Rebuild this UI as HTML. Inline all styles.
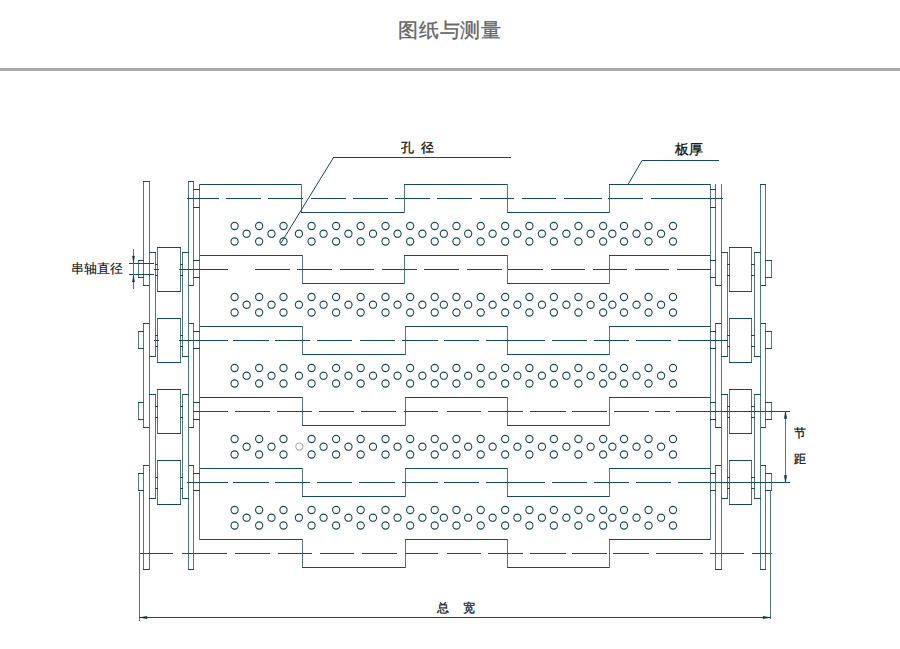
<!DOCTYPE html>
<html><head><meta charset="utf-8">
<style>
html,body{margin:0;padding:0;background:#fff;width:900px;height:649px;overflow:hidden;}
body{position:relative;font-family:"Liberation Sans",sans-serif;}
.t{position:absolute;white-space:nowrap;line-height:1;}
#title{left:398px;top:20px;font-size:20px;color:#666;letter-spacing:0.75px;-webkit-text-stroke:0.35px #666;}
#hr{position:absolute;left:0;top:68px;width:900px;height:3px;background:#aaa;}
svg{position:absolute;left:0;top:0;}
.lb{color:#111;font-size:12px;-webkit-text-stroke:0.3px #111;}
</style></head><body>
<div class="t" id="title">图纸与测量</div>
<div id="hr"></div>
<svg width="900" height="649" viewBox="0 0 900 649">
<g shape-rendering="crispEdges">
<line x1="199" y1="184.5" x2="302" y2="184.5" stroke="#174a5a" stroke-width="1.0"/>
<line x1="301.5" y1="184" x2="301.5" y2="213" stroke="#4f7a78" stroke-width="1.0"/>
<line x1="301" y1="212.5" x2="405" y2="212.5" stroke="#174a5a" stroke-width="1.0"/>
<line x1="404.5" y1="184" x2="404.5" y2="213" stroke="#4f7a78" stroke-width="1.0"/>
<line x1="404" y1="184.5" x2="508" y2="184.5" stroke="#174a5a" stroke-width="1.0"/>
<line x1="507.5" y1="184" x2="507.5" y2="213" stroke="#4f7a78" stroke-width="1.0"/>
<line x1="507" y1="212.5" x2="610" y2="212.5" stroke="#174a5a" stroke-width="1.0"/>
<line x1="609.5" y1="184" x2="609.5" y2="213" stroke="#4f7a78" stroke-width="1.0"/>
<line x1="609" y1="184.5" x2="711" y2="184.5" stroke="#174a5a" stroke-width="1.0"/>
<line x1="199" y1="255.5" x2="303" y2="255.5" stroke="#174a5a" stroke-width="1.0"/>
<line x1="302.5" y1="255" x2="302.5" y2="284" stroke="#4f7a78" stroke-width="1.0"/>
<line x1="302" y1="283.5" x2="405" y2="283.5" stroke="#174a5a" stroke-width="1.0"/>
<line x1="404.5" y1="255" x2="404.5" y2="284" stroke="#4f7a78" stroke-width="1.0"/>
<line x1="404" y1="255.5" x2="508" y2="255.5" stroke="#174a5a" stroke-width="1.0"/>
<line x1="507.5" y1="255" x2="507.5" y2="284" stroke="#4f7a78" stroke-width="1.0"/>
<line x1="507" y1="283.5" x2="610" y2="283.5" stroke="#174a5a" stroke-width="1.0"/>
<line x1="609.5" y1="255" x2="609.5" y2="284" stroke="#4f7a78" stroke-width="1.0"/>
<line x1="609" y1="255.5" x2="711" y2="255.5" stroke="#174a5a" stroke-width="1.0"/>
<line x1="199" y1="326.5" x2="303" y2="326.5" stroke="#174a5a" stroke-width="1.0"/>
<line x1="302.5" y1="326" x2="302.5" y2="355" stroke="#4f7a78" stroke-width="1.0"/>
<line x1="302" y1="354.5" x2="406" y2="354.5" stroke="#174a5a" stroke-width="1.0"/>
<line x1="405.5" y1="326" x2="405.5" y2="355" stroke="#4f7a78" stroke-width="1.0"/>
<line x1="405" y1="326.5" x2="508" y2="326.5" stroke="#174a5a" stroke-width="1.0"/>
<line x1="507.5" y1="326" x2="507.5" y2="355" stroke="#4f7a78" stroke-width="1.0"/>
<line x1="507" y1="354.5" x2="610" y2="354.5" stroke="#174a5a" stroke-width="1.0"/>
<line x1="609.5" y1="326" x2="609.5" y2="355" stroke="#4f7a78" stroke-width="1.0"/>
<line x1="609" y1="326.5" x2="711" y2="326.5" stroke="#174a5a" stroke-width="1.0"/>
<line x1="199" y1="397.5" x2="303" y2="397.5" stroke="#174a5a" stroke-width="1.0"/>
<line x1="302.5" y1="397" x2="302.5" y2="426" stroke="#4f7a78" stroke-width="1.0"/>
<line x1="302" y1="425.5" x2="406" y2="425.5" stroke="#174a5a" stroke-width="1.0"/>
<line x1="405.5" y1="397" x2="405.5" y2="426" stroke="#4f7a78" stroke-width="1.0"/>
<line x1="405" y1="397.5" x2="508" y2="397.5" stroke="#174a5a" stroke-width="1.0"/>
<line x1="507.5" y1="397" x2="507.5" y2="426" stroke="#4f7a78" stroke-width="1.0"/>
<line x1="507" y1="425.5" x2="610" y2="425.5" stroke="#174a5a" stroke-width="1.0"/>
<line x1="609.5" y1="397" x2="609.5" y2="426" stroke="#4f7a78" stroke-width="1.0"/>
<line x1="609" y1="397.5" x2="711" y2="397.5" stroke="#174a5a" stroke-width="1.0"/>
<line x1="199" y1="468.5" x2="303" y2="468.5" stroke="#174a5a" stroke-width="1.0"/>
<line x1="302.5" y1="468" x2="302.5" y2="497" stroke="#4f7a78" stroke-width="1.0"/>
<line x1="302" y1="496.5" x2="406" y2="496.5" stroke="#174a5a" stroke-width="1.0"/>
<line x1="405.5" y1="468" x2="405.5" y2="497" stroke="#4f7a78" stroke-width="1.0"/>
<line x1="405" y1="468.5" x2="508" y2="468.5" stroke="#174a5a" stroke-width="1.0"/>
<line x1="507.5" y1="468" x2="507.5" y2="497" stroke="#4f7a78" stroke-width="1.0"/>
<line x1="507" y1="496.5" x2="610" y2="496.5" stroke="#174a5a" stroke-width="1.0"/>
<line x1="609.5" y1="468" x2="609.5" y2="497" stroke="#4f7a78" stroke-width="1.0"/>
<line x1="609" y1="468.5" x2="711" y2="468.5" stroke="#174a5a" stroke-width="1.0"/>
<line x1="199" y1="539.5" x2="303" y2="539.5" stroke="#174a5a" stroke-width="1.0"/>
<line x1="302.5" y1="539" x2="302.5" y2="568" stroke="#4f7a78" stroke-width="1.0"/>
<line x1="302" y1="567.5" x2="406" y2="567.5" stroke="#174a5a" stroke-width="1.0"/>
<line x1="405.5" y1="539" x2="405.5" y2="568" stroke="#4f7a78" stroke-width="1.0"/>
<line x1="405" y1="539.5" x2="508" y2="539.5" stroke="#174a5a" stroke-width="1.0"/>
<line x1="507.5" y1="539" x2="507.5" y2="568" stroke="#4f7a78" stroke-width="1.0"/>
<line x1="507" y1="567.5" x2="610" y2="567.5" stroke="#174a5a" stroke-width="1.0"/>
<line x1="609.5" y1="539" x2="609.5" y2="568" stroke="#4f7a78" stroke-width="1.0"/>
<line x1="609" y1="539.5" x2="711" y2="539.5" stroke="#174a5a" stroke-width="1.0"/>
<line x1="199.5" y1="184" x2="199.5" y2="540" stroke="#4f7a78" stroke-width="1.0"/>
<line x1="710.5" y1="184" x2="710.5" y2="540" stroke="#4f7a78" stroke-width="1.0"/>
<line x1="143.5" y1="181" x2="143.5" y2="286" stroke="#4f7a78" stroke-width="1.0"/>
<line x1="149.5" y1="181" x2="149.5" y2="286" stroke="#4f7a78" stroke-width="1.0"/>
<line x1="143" y1="181.5" x2="150" y2="181.5" stroke="#174a5a" stroke-width="1.0"/>
<line x1="143" y1="285.5" x2="150" y2="285.5" stroke="#174a5a" stroke-width="1.0"/>
<line x1="188.5" y1="181" x2="188.5" y2="286" stroke="#4f7a78" stroke-width="1.0"/>
<line x1="193.5" y1="181" x2="193.5" y2="286" stroke="#4f7a78" stroke-width="1.0"/>
<line x1="188" y1="181.5" x2="194" y2="181.5" stroke="#174a5a" stroke-width="1.0"/>
<line x1="188" y1="285.5" x2="194" y2="285.5" stroke="#174a5a" stroke-width="1.0"/>
<line x1="143.5" y1="323" x2="143.5" y2="428" stroke="#4f7a78" stroke-width="1.0"/>
<line x1="149.5" y1="323" x2="149.5" y2="428" stroke="#4f7a78" stroke-width="1.0"/>
<line x1="143" y1="323.5" x2="150" y2="323.5" stroke="#174a5a" stroke-width="1.0"/>
<line x1="143" y1="427.5" x2="150" y2="427.5" stroke="#174a5a" stroke-width="1.0"/>
<line x1="188.5" y1="323" x2="188.5" y2="428" stroke="#4f7a78" stroke-width="1.0"/>
<line x1="193.5" y1="323" x2="193.5" y2="428" stroke="#4f7a78" stroke-width="1.0"/>
<line x1="188" y1="323.5" x2="194" y2="323.5" stroke="#174a5a" stroke-width="1.0"/>
<line x1="188" y1="427.5" x2="194" y2="427.5" stroke="#174a5a" stroke-width="1.0"/>
<line x1="143.5" y1="465" x2="143.5" y2="570" stroke="#4f7a78" stroke-width="1.0"/>
<line x1="149.5" y1="465" x2="149.5" y2="570" stroke="#4f7a78" stroke-width="1.0"/>
<line x1="143" y1="465.5" x2="150" y2="465.5" stroke="#174a5a" stroke-width="1.0"/>
<line x1="143" y1="569.5" x2="150" y2="569.5" stroke="#174a5a" stroke-width="1.0"/>
<line x1="188.5" y1="465" x2="188.5" y2="570" stroke="#4f7a78" stroke-width="1.0"/>
<line x1="193.5" y1="465" x2="193.5" y2="570" stroke="#4f7a78" stroke-width="1.0"/>
<line x1="188" y1="465.5" x2="194" y2="465.5" stroke="#174a5a" stroke-width="1.0"/>
<line x1="188" y1="569.5" x2="194" y2="569.5" stroke="#174a5a" stroke-width="1.0"/>
<line x1="149.5" y1="252" x2="149.5" y2="357" stroke="#4f7a78" stroke-width="1.0"/>
<line x1="155.5" y1="252" x2="155.5" y2="357" stroke="#4f7a78" stroke-width="1.0"/>
<line x1="149" y1="252.5" x2="156" y2="252.5" stroke="#174a5a" stroke-width="1.0"/>
<line x1="149" y1="356.5" x2="156" y2="356.5" stroke="#174a5a" stroke-width="1.0"/>
<line x1="182.5" y1="252" x2="182.5" y2="357" stroke="#4f7a78" stroke-width="1.0"/>
<line x1="188.5" y1="252" x2="188.5" y2="357" stroke="#4f7a78" stroke-width="1.0"/>
<line x1="182" y1="252.5" x2="189" y2="252.5" stroke="#174a5a" stroke-width="1.0"/>
<line x1="182" y1="356.5" x2="189" y2="356.5" stroke="#174a5a" stroke-width="1.0"/>
<line x1="149.5" y1="394" x2="149.5" y2="499" stroke="#4f7a78" stroke-width="1.0"/>
<line x1="155.5" y1="394" x2="155.5" y2="499" stroke="#4f7a78" stroke-width="1.0"/>
<line x1="149" y1="394.5" x2="156" y2="394.5" stroke="#174a5a" stroke-width="1.0"/>
<line x1="149" y1="498.5" x2="156" y2="498.5" stroke="#174a5a" stroke-width="1.0"/>
<line x1="182.5" y1="394" x2="182.5" y2="499" stroke="#4f7a78" stroke-width="1.0"/>
<line x1="188.5" y1="394" x2="188.5" y2="499" stroke="#4f7a78" stroke-width="1.0"/>
<line x1="182" y1="394.5" x2="189" y2="394.5" stroke="#174a5a" stroke-width="1.0"/>
<line x1="182" y1="498.5" x2="189" y2="498.5" stroke="#174a5a" stroke-width="1.0"/>
<line x1="157.5" y1="246.5" x2="157.5" y2="291.5" stroke="#4f7a78" stroke-width="1.0"/>
<line x1="180.5" y1="246.5" x2="180.5" y2="291.5" stroke="#4f7a78" stroke-width="1.0"/>
<line x1="157" y1="247" x2="181" y2="247" stroke="#174a5a" stroke-width="1.0"/>
<line x1="157" y1="291" x2="181" y2="291" stroke="#174a5a" stroke-width="1.0"/>
<line x1="155" y1="264" x2="158" y2="264" stroke="#174a5a" stroke-width="1.0"/>
<line x1="180" y1="264" x2="183" y2="264" stroke="#174a5a" stroke-width="1.0"/>
<line x1="155" y1="275.5" x2="158" y2="275.5" stroke="#174a5a" stroke-width="1.0"/>
<line x1="180" y1="275.5" x2="183" y2="275.5" stroke="#174a5a" stroke-width="1.0"/>
<line x1="138.5" y1="260" x2="138.5" y2="278" stroke="#4f7a78" stroke-width="1.0"/>
<line x1="143.5" y1="260" x2="143.5" y2="278" stroke="#4f7a78" stroke-width="1.0"/>
<line x1="138" y1="260.5" x2="144" y2="260.5" stroke="#174a5a" stroke-width="1.0"/>
<line x1="138" y1="277.5" x2="144" y2="277.5" stroke="#174a5a" stroke-width="1.0"/>
<line x1="157.5" y1="317.5" x2="157.5" y2="362.5" stroke="#4f7a78" stroke-width="1.0"/>
<line x1="180.5" y1="317.5" x2="180.5" y2="362.5" stroke="#4f7a78" stroke-width="1.0"/>
<line x1="157" y1="318" x2="181" y2="318" stroke="#174a5a" stroke-width="1.0"/>
<line x1="157" y1="362" x2="181" y2="362" stroke="#174a5a" stroke-width="1.0"/>
<line x1="155" y1="335" x2="158" y2="335" stroke="#174a5a" stroke-width="1.0"/>
<line x1="180" y1="335" x2="183" y2="335" stroke="#174a5a" stroke-width="1.0"/>
<line x1="155" y1="346.5" x2="158" y2="346.5" stroke="#174a5a" stroke-width="1.0"/>
<line x1="180" y1="346.5" x2="183" y2="346.5" stroke="#174a5a" stroke-width="1.0"/>
<line x1="138.5" y1="331" x2="138.5" y2="349" stroke="#4f7a78" stroke-width="1.0"/>
<line x1="143.5" y1="331" x2="143.5" y2="349" stroke="#4f7a78" stroke-width="1.0"/>
<line x1="138" y1="331.5" x2="144" y2="331.5" stroke="#174a5a" stroke-width="1.0"/>
<line x1="138" y1="348.5" x2="144" y2="348.5" stroke="#174a5a" stroke-width="1.0"/>
<line x1="157.5" y1="388.5" x2="157.5" y2="433.5" stroke="#4f7a78" stroke-width="1.0"/>
<line x1="180.5" y1="388.5" x2="180.5" y2="433.5" stroke="#4f7a78" stroke-width="1.0"/>
<line x1="157" y1="389" x2="181" y2="389" stroke="#174a5a" stroke-width="1.0"/>
<line x1="157" y1="433" x2="181" y2="433" stroke="#174a5a" stroke-width="1.0"/>
<line x1="155" y1="406" x2="158" y2="406" stroke="#174a5a" stroke-width="1.0"/>
<line x1="180" y1="406" x2="183" y2="406" stroke="#174a5a" stroke-width="1.0"/>
<line x1="155" y1="417.5" x2="158" y2="417.5" stroke="#174a5a" stroke-width="1.0"/>
<line x1="180" y1="417.5" x2="183" y2="417.5" stroke="#174a5a" stroke-width="1.0"/>
<line x1="138.5" y1="402" x2="138.5" y2="420" stroke="#4f7a78" stroke-width="1.0"/>
<line x1="143.5" y1="402" x2="143.5" y2="420" stroke="#4f7a78" stroke-width="1.0"/>
<line x1="138" y1="402.5" x2="144" y2="402.5" stroke="#174a5a" stroke-width="1.0"/>
<line x1="138" y1="419.5" x2="144" y2="419.5" stroke="#174a5a" stroke-width="1.0"/>
<line x1="157.5" y1="459.5" x2="157.5" y2="504.5" stroke="#4f7a78" stroke-width="1.0"/>
<line x1="180.5" y1="459.5" x2="180.5" y2="504.5" stroke="#4f7a78" stroke-width="1.0"/>
<line x1="157" y1="460" x2="181" y2="460" stroke="#174a5a" stroke-width="1.0"/>
<line x1="157" y1="504" x2="181" y2="504" stroke="#174a5a" stroke-width="1.0"/>
<line x1="155" y1="477" x2="158" y2="477" stroke="#174a5a" stroke-width="1.0"/>
<line x1="180" y1="477" x2="183" y2="477" stroke="#174a5a" stroke-width="1.0"/>
<line x1="155" y1="488.5" x2="158" y2="488.5" stroke="#174a5a" stroke-width="1.0"/>
<line x1="180" y1="488.5" x2="183" y2="488.5" stroke="#174a5a" stroke-width="1.0"/>
<line x1="138.5" y1="473" x2="138.5" y2="491" stroke="#4f7a78" stroke-width="1.0"/>
<line x1="143.5" y1="473" x2="143.5" y2="491" stroke="#4f7a78" stroke-width="1.0"/>
<line x1="138" y1="473.5" x2="144" y2="473.5" stroke="#174a5a" stroke-width="1.0"/>
<line x1="138" y1="490.5" x2="144" y2="490.5" stroke="#174a5a" stroke-width="1.0"/>
<line x1="193" y1="189.5" x2="200" y2="189.5" stroke="#174a5a" stroke-width="1.0"/>
<line x1="193" y1="207" x2="200" y2="207" stroke="#174a5a" stroke-width="1.0"/>
<line x1="193" y1="260.5" x2="200" y2="260.5" stroke="#174a5a" stroke-width="1.0"/>
<line x1="193" y1="277.5" x2="200" y2="277.5" stroke="#174a5a" stroke-width="1.0"/>
<line x1="193" y1="331.5" x2="200" y2="331.5" stroke="#174a5a" stroke-width="1.0"/>
<line x1="193" y1="348.5" x2="200" y2="348.5" stroke="#174a5a" stroke-width="1.0"/>
<line x1="193" y1="402.5" x2="200" y2="402.5" stroke="#174a5a" stroke-width="1.0"/>
<line x1="193" y1="419.5" x2="200" y2="419.5" stroke="#174a5a" stroke-width="1.0"/>
<line x1="193" y1="473.5" x2="200" y2="473.5" stroke="#174a5a" stroke-width="1.0"/>
<line x1="193" y1="490.5" x2="200" y2="490.5" stroke="#174a5a" stroke-width="1.0"/>
<line x1="760.5" y1="184" x2="760.5" y2="286" stroke="#4f7a78" stroke-width="1.0"/>
<line x1="765.5" y1="184" x2="765.5" y2="286" stroke="#4f7a78" stroke-width="1.0"/>
<line x1="760" y1="184.5" x2="766" y2="184.5" stroke="#174a5a" stroke-width="1.0"/>
<line x1="760" y1="285.5" x2="766" y2="285.5" stroke="#174a5a" stroke-width="1.0"/>
<line x1="715.5" y1="184" x2="715.5" y2="286" stroke="#4f7a78" stroke-width="1.0"/>
<line x1="721.5" y1="184" x2="721.5" y2="286" stroke="#4f7a78" stroke-width="1.0"/>
<line x1="715" y1="285.5" x2="722" y2="285.5" stroke="#174a5a" stroke-width="1.0"/>
<line x1="760.5" y1="323" x2="760.5" y2="428" stroke="#4f7a78" stroke-width="1.0"/>
<line x1="765.5" y1="323" x2="765.5" y2="428" stroke="#4f7a78" stroke-width="1.0"/>
<line x1="760" y1="323.5" x2="766" y2="323.5" stroke="#174a5a" stroke-width="1.0"/>
<line x1="760" y1="427.5" x2="766" y2="427.5" stroke="#174a5a" stroke-width="1.0"/>
<line x1="715.5" y1="323" x2="715.5" y2="428" stroke="#4f7a78" stroke-width="1.0"/>
<line x1="721.5" y1="323" x2="721.5" y2="428" stroke="#4f7a78" stroke-width="1.0"/>
<line x1="715" y1="323.5" x2="722" y2="323.5" stroke="#174a5a" stroke-width="1.0"/>
<line x1="715" y1="427.5" x2="722" y2="427.5" stroke="#174a5a" stroke-width="1.0"/>
<line x1="760.5" y1="465" x2="760.5" y2="570" stroke="#4f7a78" stroke-width="1.0"/>
<line x1="765.5" y1="465" x2="765.5" y2="570" stroke="#4f7a78" stroke-width="1.0"/>
<line x1="760" y1="465.5" x2="766" y2="465.5" stroke="#174a5a" stroke-width="1.0"/>
<line x1="760" y1="569.5" x2="766" y2="569.5" stroke="#174a5a" stroke-width="1.0"/>
<line x1="715.5" y1="465" x2="715.5" y2="570" stroke="#4f7a78" stroke-width="1.0"/>
<line x1="721.5" y1="465" x2="721.5" y2="570" stroke="#4f7a78" stroke-width="1.0"/>
<line x1="715" y1="465.5" x2="722" y2="465.5" stroke="#174a5a" stroke-width="1.0"/>
<line x1="715" y1="569.5" x2="722" y2="569.5" stroke="#174a5a" stroke-width="1.0"/>
<line x1="754.5" y1="252" x2="754.5" y2="357" stroke="#4f7a78" stroke-width="1.0"/>
<line x1="760.5" y1="252" x2="760.5" y2="357" stroke="#4f7a78" stroke-width="1.0"/>
<line x1="754" y1="252.5" x2="761" y2="252.5" stroke="#174a5a" stroke-width="1.0"/>
<line x1="754" y1="356.5" x2="761" y2="356.5" stroke="#174a5a" stroke-width="1.0"/>
<line x1="721.5" y1="252" x2="721.5" y2="357" stroke="#4f7a78" stroke-width="1.0"/>
<line x1="727.5" y1="252" x2="727.5" y2="357" stroke="#4f7a78" stroke-width="1.0"/>
<line x1="721" y1="252.5" x2="728" y2="252.5" stroke="#174a5a" stroke-width="1.0"/>
<line x1="721" y1="356.5" x2="728" y2="356.5" stroke="#174a5a" stroke-width="1.0"/>
<line x1="754.5" y1="394" x2="754.5" y2="499" stroke="#4f7a78" stroke-width="1.0"/>
<line x1="760.5" y1="394" x2="760.5" y2="499" stroke="#4f7a78" stroke-width="1.0"/>
<line x1="754" y1="394.5" x2="761" y2="394.5" stroke="#174a5a" stroke-width="1.0"/>
<line x1="754" y1="498.5" x2="761" y2="498.5" stroke="#174a5a" stroke-width="1.0"/>
<line x1="721.5" y1="394" x2="721.5" y2="499" stroke="#4f7a78" stroke-width="1.0"/>
<line x1="727.5" y1="394" x2="727.5" y2="499" stroke="#4f7a78" stroke-width="1.0"/>
<line x1="721" y1="394.5" x2="728" y2="394.5" stroke="#174a5a" stroke-width="1.0"/>
<line x1="721" y1="498.5" x2="728" y2="498.5" stroke="#174a5a" stroke-width="1.0"/>
<line x1="729.5" y1="246.5" x2="729.5" y2="291.5" stroke="#4f7a78" stroke-width="1.0"/>
<line x1="751.5" y1="246.5" x2="751.5" y2="291.5" stroke="#4f7a78" stroke-width="1.0"/>
<line x1="729" y1="247" x2="752" y2="247" stroke="#174a5a" stroke-width="1.0"/>
<line x1="729" y1="291" x2="752" y2="291" stroke="#174a5a" stroke-width="1.0"/>
<line x1="751" y1="264" x2="755" y2="264" stroke="#174a5a" stroke-width="1.0"/>
<line x1="727" y1="264" x2="730" y2="264" stroke="#174a5a" stroke-width="1.0"/>
<line x1="751" y1="275.5" x2="755" y2="275.5" stroke="#174a5a" stroke-width="1.0"/>
<line x1="727" y1="275.5" x2="730" y2="275.5" stroke="#174a5a" stroke-width="1.0"/>
<line x1="765.5" y1="260" x2="765.5" y2="278" stroke="#4f7a78" stroke-width="1.0"/>
<line x1="771.5" y1="260" x2="771.5" y2="278" stroke="#4f7a78" stroke-width="1.0"/>
<line x1="765" y1="260.5" x2="772" y2="260.5" stroke="#174a5a" stroke-width="1.0"/>
<line x1="765" y1="277.5" x2="772" y2="277.5" stroke="#174a5a" stroke-width="1.0"/>
<line x1="729.5" y1="317.5" x2="729.5" y2="362.5" stroke="#4f7a78" stroke-width="1.0"/>
<line x1="751.5" y1="317.5" x2="751.5" y2="362.5" stroke="#4f7a78" stroke-width="1.0"/>
<line x1="729" y1="318" x2="752" y2="318" stroke="#174a5a" stroke-width="1.0"/>
<line x1="729" y1="362" x2="752" y2="362" stroke="#174a5a" stroke-width="1.0"/>
<line x1="751" y1="335" x2="755" y2="335" stroke="#174a5a" stroke-width="1.0"/>
<line x1="727" y1="335" x2="730" y2="335" stroke="#174a5a" stroke-width="1.0"/>
<line x1="751" y1="346.5" x2="755" y2="346.5" stroke="#174a5a" stroke-width="1.0"/>
<line x1="727" y1="346.5" x2="730" y2="346.5" stroke="#174a5a" stroke-width="1.0"/>
<line x1="765.5" y1="331" x2="765.5" y2="349" stroke="#4f7a78" stroke-width="1.0"/>
<line x1="771.5" y1="331" x2="771.5" y2="349" stroke="#4f7a78" stroke-width="1.0"/>
<line x1="765" y1="331.5" x2="772" y2="331.5" stroke="#174a5a" stroke-width="1.0"/>
<line x1="765" y1="348.5" x2="772" y2="348.5" stroke="#174a5a" stroke-width="1.0"/>
<line x1="729.5" y1="388.5" x2="729.5" y2="433.5" stroke="#4f7a78" stroke-width="1.0"/>
<line x1="751.5" y1="388.5" x2="751.5" y2="433.5" stroke="#4f7a78" stroke-width="1.0"/>
<line x1="729" y1="389" x2="752" y2="389" stroke="#174a5a" stroke-width="1.0"/>
<line x1="729" y1="433" x2="752" y2="433" stroke="#174a5a" stroke-width="1.0"/>
<line x1="751" y1="406" x2="755" y2="406" stroke="#174a5a" stroke-width="1.0"/>
<line x1="727" y1="406" x2="730" y2="406" stroke="#174a5a" stroke-width="1.0"/>
<line x1="751" y1="417.5" x2="755" y2="417.5" stroke="#174a5a" stroke-width="1.0"/>
<line x1="727" y1="417.5" x2="730" y2="417.5" stroke="#174a5a" stroke-width="1.0"/>
<line x1="765.5" y1="402" x2="765.5" y2="420" stroke="#4f7a78" stroke-width="1.0"/>
<line x1="771.5" y1="402" x2="771.5" y2="420" stroke="#4f7a78" stroke-width="1.0"/>
<line x1="765" y1="402.5" x2="772" y2="402.5" stroke="#174a5a" stroke-width="1.0"/>
<line x1="765" y1="419.5" x2="772" y2="419.5" stroke="#174a5a" stroke-width="1.0"/>
<line x1="729.5" y1="459.5" x2="729.5" y2="504.5" stroke="#4f7a78" stroke-width="1.0"/>
<line x1="751.5" y1="459.5" x2="751.5" y2="504.5" stroke="#4f7a78" stroke-width="1.0"/>
<line x1="729" y1="460" x2="752" y2="460" stroke="#174a5a" stroke-width="1.0"/>
<line x1="729" y1="504" x2="752" y2="504" stroke="#174a5a" stroke-width="1.0"/>
<line x1="751" y1="477" x2="755" y2="477" stroke="#174a5a" stroke-width="1.0"/>
<line x1="727" y1="477" x2="730" y2="477" stroke="#174a5a" stroke-width="1.0"/>
<line x1="751" y1="488.5" x2="755" y2="488.5" stroke="#174a5a" stroke-width="1.0"/>
<line x1="727" y1="488.5" x2="730" y2="488.5" stroke="#174a5a" stroke-width="1.0"/>
<line x1="765.5" y1="473" x2="765.5" y2="491" stroke="#4f7a78" stroke-width="1.0"/>
<line x1="771.5" y1="473" x2="771.5" y2="491" stroke="#4f7a78" stroke-width="1.0"/>
<line x1="765" y1="473.5" x2="772" y2="473.5" stroke="#174a5a" stroke-width="1.0"/>
<line x1="765" y1="490.5" x2="772" y2="490.5" stroke="#174a5a" stroke-width="1.0"/>
<line x1="710" y1="189.5" x2="716" y2="189.5" stroke="#174a5a" stroke-width="1.0"/>
<line x1="710" y1="207" x2="716" y2="207" stroke="#174a5a" stroke-width="1.0"/>
<line x1="710" y1="260.5" x2="716" y2="260.5" stroke="#174a5a" stroke-width="1.0"/>
<line x1="710" y1="277.5" x2="716" y2="277.5" stroke="#174a5a" stroke-width="1.0"/>
<line x1="710" y1="331.5" x2="716" y2="331.5" stroke="#174a5a" stroke-width="1.0"/>
<line x1="710" y1="348.5" x2="716" y2="348.5" stroke="#174a5a" stroke-width="1.0"/>
<line x1="710" y1="402.5" x2="716" y2="402.5" stroke="#174a5a" stroke-width="1.0"/>
<line x1="710" y1="419.5" x2="716" y2="419.5" stroke="#174a5a" stroke-width="1.0"/>
<line x1="710" y1="473.5" x2="716" y2="473.5" stroke="#174a5a" stroke-width="1.0"/>
<line x1="710" y1="490.5" x2="716" y2="490.5" stroke="#174a5a" stroke-width="1.0"/>
<line x1="187.3" y1="198.5" x2="218.6" y2="198.5" stroke="#174a5a" stroke-width="1.0"/>
<line x1="225.8" y1="198.5" x2="261.4" y2="198.5" stroke="#174a5a" stroke-width="1.0"/>
<line x1="268.1" y1="198.5" x2="303.4" y2="198.5" stroke="#174a5a" stroke-width="1.0"/>
<line x1="311" y1="198.5" x2="345.5" y2="198.5" stroke="#174a5a" stroke-width="1.0"/>
<line x1="352.5" y1="198.5" x2="388.1" y2="198.5" stroke="#174a5a" stroke-width="1.0"/>
<line x1="395" y1="198.5" x2="430.2" y2="198.5" stroke="#174a5a" stroke-width="1.0"/>
<line x1="437.4" y1="198.5" x2="472.3" y2="198.5" stroke="#174a5a" stroke-width="1.0"/>
<line x1="479.7" y1="198.5" x2="514.3" y2="198.5" stroke="#174a5a" stroke-width="1.0"/>
<line x1="521.7" y1="198.5" x2="556.3" y2="198.5" stroke="#174a5a" stroke-width="1.0"/>
<line x1="563.7" y1="198.5" x2="602" y2="198.5" stroke="#174a5a" stroke-width="1.0"/>
<line x1="608.2" y1="198.5" x2="643.4" y2="198.5" stroke="#174a5a" stroke-width="1.0"/>
<line x1="651.1" y1="198.5" x2="722.5" y2="198.5" stroke="#174a5a" stroke-width="1.0"/>
<line x1="153.5" y1="269.5" x2="158.5" y2="269.5" stroke="#174a5a" stroke-width="1.0"/>
<line x1="178.8" y1="269.5" x2="228.1" y2="269.5" stroke="#174a5a" stroke-width="1.0"/>
<line x1="255.1" y1="269.5" x2="290.3" y2="269.5" stroke="#174a5a" stroke-width="1.0"/>
<line x1="297.1" y1="269.5" x2="332.3" y2="269.5" stroke="#174a5a" stroke-width="1.0"/>
<line x1="339.7" y1="269.5" x2="374.3" y2="269.5" stroke="#174a5a" stroke-width="1.0"/>
<line x1="381.7" y1="269.5" x2="416.9" y2="269.5" stroke="#174a5a" stroke-width="1.0"/>
<line x1="424" y1="269.5" x2="459.2" y2="269.5" stroke="#174a5a" stroke-width="1.0"/>
<line x1="466.9" y1="269.5" x2="502.1" y2="269.5" stroke="#174a5a" stroke-width="1.0"/>
<line x1="507.9" y1="269.5" x2="543.2" y2="269.5" stroke="#174a5a" stroke-width="1.0"/>
<line x1="550.5" y1="269.5" x2="585.2" y2="269.5" stroke="#174a5a" stroke-width="1.0"/>
<line x1="592.5" y1="269.5" x2="627.2" y2="269.5" stroke="#174a5a" stroke-width="1.0"/>
<line x1="634.9" y1="269.5" x2="669.2" y2="269.5" stroke="#174a5a" stroke-width="1.0"/>
<line x1="676.5" y1="269.5" x2="711.2" y2="269.5" stroke="#174a5a" stroke-width="1.0"/>
<line x1="153.5" y1="340.5" x2="158.5" y2="340.5" stroke="#174a5a" stroke-width="1.0"/>
<line x1="178.8" y1="340.5" x2="228.1" y2="340.5" stroke="#174a5a" stroke-width="1.0"/>
<line x1="233.3" y1="340.5" x2="268.5" y2="340.5" stroke="#174a5a" stroke-width="1.0"/>
<line x1="275.3" y1="340.5" x2="309.9" y2="340.5" stroke="#174a5a" stroke-width="1.0"/>
<line x1="317.3" y1="340.5" x2="351.5" y2="340.5" stroke="#174a5a" stroke-width="1.0"/>
<line x1="359.9" y1="340.5" x2="394.5" y2="340.5" stroke="#174a5a" stroke-width="1.0"/>
<line x1="402.2" y1="340.5" x2="437.5" y2="340.5" stroke="#174a5a" stroke-width="1.0"/>
<line x1="443.9" y1="340.5" x2="479.3" y2="340.5" stroke="#174a5a" stroke-width="1.0"/>
<line x1="486.1" y1="340.5" x2="545.4" y2="340.5" stroke="#174a5a" stroke-width="1.0"/>
<line x1="552.4" y1="340.5" x2="587.2" y2="340.5" stroke="#174a5a" stroke-width="1.0"/>
<line x1="593.9" y1="340.5" x2="629.3" y2="340.5" stroke="#174a5a" stroke-width="1.0"/>
<line x1="636.1" y1="340.5" x2="670.9" y2="340.5" stroke="#174a5a" stroke-width="1.0"/>
<line x1="677.9" y1="340.5" x2="728.3" y2="340.5" stroke="#174a5a" stroke-width="1.0"/>
<line x1="192.9" y1="411.5" x2="228.1" y2="411.5" stroke="#174a5a" stroke-width="1.0"/>
<line x1="234.8" y1="411.5" x2="270.1" y2="411.5" stroke="#174a5a" stroke-width="1.0"/>
<line x1="276.8" y1="411.5" x2="312.1" y2="411.5" stroke="#174a5a" stroke-width="1.0"/>
<line x1="318.8" y1="411.5" x2="354.1" y2="411.5" stroke="#174a5a" stroke-width="1.0"/>
<line x1="360.8" y1="411.5" x2="396.1" y2="411.5" stroke="#174a5a" stroke-width="1.0"/>
<line x1="403.5" y1="411.5" x2="438.1" y2="411.5" stroke="#174a5a" stroke-width="1.0"/>
<line x1="446.6" y1="411.5" x2="481.4" y2="411.5" stroke="#174a5a" stroke-width="1.0"/>
<line x1="488.4" y1="411.5" x2="523.2" y2="411.5" stroke="#174a5a" stroke-width="1.0"/>
<line x1="530.2" y1="411.5" x2="565.8" y2="411.5" stroke="#174a5a" stroke-width="1.0"/>
<line x1="571.9" y1="411.5" x2="607.4" y2="411.5" stroke="#174a5a" stroke-width="1.0"/>
<line x1="614.4" y1="411.5" x2="649.2" y2="411.5" stroke="#174a5a" stroke-width="1.0"/>
<line x1="655.3" y1="411.5" x2="669.6" y2="411.5" stroke="#174a5a" stroke-width="1.0"/>
<line x1="675.7" y1="411.5" x2="789.5" y2="411.5" stroke="#174a5a" stroke-width="1.0"/>
<line x1="186.5" y1="482.5" x2="228.1" y2="482.5" stroke="#174a5a" stroke-width="1.0"/>
<line x1="233.3" y1="482.5" x2="268.5" y2="482.5" stroke="#174a5a" stroke-width="1.0"/>
<line x1="275.3" y1="482.5" x2="309.9" y2="482.5" stroke="#174a5a" stroke-width="1.0"/>
<line x1="317.3" y1="482.5" x2="351.5" y2="482.5" stroke="#174a5a" stroke-width="1.0"/>
<line x1="359.3" y1="482.5" x2="394.5" y2="482.5" stroke="#174a5a" stroke-width="1.0"/>
<line x1="402.2" y1="482.5" x2="437.5" y2="482.5" stroke="#174a5a" stroke-width="1.0"/>
<line x1="443.9" y1="482.5" x2="479.3" y2="482.5" stroke="#174a5a" stroke-width="1.0"/>
<line x1="486.1" y1="482.5" x2="545.4" y2="482.5" stroke="#174a5a" stroke-width="1.0"/>
<line x1="552.4" y1="482.5" x2="587.2" y2="482.5" stroke="#174a5a" stroke-width="1.0"/>
<line x1="593.9" y1="482.5" x2="629.3" y2="482.5" stroke="#174a5a" stroke-width="1.0"/>
<line x1="636.1" y1="482.5" x2="670.9" y2="482.5" stroke="#174a5a" stroke-width="1.0"/>
<line x1="677.9" y1="482.5" x2="789.5" y2="482.5" stroke="#174a5a" stroke-width="1.0"/>
<line x1="139" y1="553.5" x2="172.8" y2="553.5" stroke="#174a5a" stroke-width="1.0"/>
<line x1="182.4" y1="553.5" x2="226.8" y2="553.5" stroke="#174a5a" stroke-width="1.0"/>
<line x1="235.3" y1="553.5" x2="270.3" y2="553.5" stroke="#174a5a" stroke-width="1.0"/>
<line x1="277.5" y1="553.5" x2="311.8" y2="553.5" stroke="#174a5a" stroke-width="1.0"/>
<line x1="320.3" y1="553.5" x2="354.1" y2="553.5" stroke="#174a5a" stroke-width="1.0"/>
<line x1="361.8" y1="553.5" x2="396.8" y2="553.5" stroke="#174a5a" stroke-width="1.0"/>
<line x1="404.5" y1="553.5" x2="438.4" y2="553.5" stroke="#174a5a" stroke-width="1.0"/>
<line x1="446.6" y1="553.5" x2="481.4" y2="553.5" stroke="#174a5a" stroke-width="1.0"/>
<line x1="488.4" y1="553.5" x2="523.2" y2="553.5" stroke="#174a5a" stroke-width="1.0"/>
<line x1="530.2" y1="553.5" x2="565.8" y2="553.5" stroke="#174a5a" stroke-width="1.0"/>
<line x1="571.9" y1="553.5" x2="606.7" y2="553.5" stroke="#174a5a" stroke-width="1.0"/>
<line x1="613.3" y1="553.5" x2="648.9" y2="553.5" stroke="#174a5a" stroke-width="1.0"/>
<line x1="655.9" y1="553.5" x2="703.2" y2="553.5" stroke="#174a5a" stroke-width="1.0"/>
<line x1="710.2" y1="553.5" x2="744.4" y2="553.5" stroke="#174a5a" stroke-width="1.0"/>
<line x1="751.9" y1="553.5" x2="771.6" y2="553.5" stroke="#174a5a" stroke-width="1.0"/>
<line x1="332.5" y1="157.5" x2="510.5" y2="157.5" stroke="#174a5a" stroke-width="1.0"/>
<line x1="641.5" y1="160.5" x2="719" y2="160.5" stroke="#174a5a" stroke-width="1.0"/>
<line x1="129.2" y1="263.5" x2="153.6" y2="263.5" stroke="#174a5a" stroke-width="1.0"/>
<line x1="129.2" y1="274.5" x2="153.6" y2="274.5" stroke="#174a5a" stroke-width="1.0"/>
<line x1="133.5" y1="249" x2="133.5" y2="288.5" stroke="#4f7a78" stroke-width="1.0"/>
<line x1="785.5" y1="411" x2="785.5" y2="483" stroke="#4f7a78" stroke-width="1.0"/>
<line x1="139.5" y1="491.5" x2="139.5" y2="621" stroke="#4f7a78" stroke-width="1.0"/>
<line x1="770.5" y1="490.5" x2="770.5" y2="619.2" stroke="#4f7a78" stroke-width="1.0"/>
<line x1="139" y1="617.5" x2="770.5" y2="617.5" stroke="#174a5a" stroke-width="1.0"/>
</g>
<g fill="none" stroke="#16495a" stroke-width="1.1">
<circle cx="234.6" cy="226" r="3.6"/><circle cx="234.6" cy="241.5" r="3.6"/><circle cx="259.15" cy="226" r="3.6"/><circle cx="259.15" cy="241.5" r="3.6"/><circle cx="283.5" cy="226" r="3.6"/><circle cx="283.5" cy="241.5" r="3.6"/><circle cx="311.56" cy="226" r="3.6"/><circle cx="311.56" cy="241.5" r="3.6"/><circle cx="336.11" cy="226" r="3.6"/><circle cx="336.11" cy="241.5" r="3.6"/><circle cx="360.66" cy="226" r="3.6"/><circle cx="360.66" cy="241.5" r="3.6"/><circle cx="385.51" cy="226" r="3.6"/><circle cx="385.51" cy="241.5" r="3.6"/><circle cx="410.16" cy="226" r="3.6"/><circle cx="410.16" cy="241.5" r="3.6"/><circle cx="434.71" cy="226" r="3.6"/><circle cx="434.71" cy="241.5" r="3.6"/><circle cx="456.46" cy="226" r="3.6"/><circle cx="456.46" cy="241.5" r="3.6"/><circle cx="480.71" cy="226" r="3.6"/><circle cx="480.71" cy="241.5" r="3.6"/><circle cx="505.16" cy="226" r="3.6"/><circle cx="505.16" cy="241.5" r="3.6"/><circle cx="529.41" cy="226" r="3.6"/><circle cx="529.41" cy="241.5" r="3.6"/><circle cx="553.86" cy="226" r="3.6"/><circle cx="553.86" cy="241.5" r="3.6"/><circle cx="578.41" cy="226" r="3.6"/><circle cx="578.41" cy="241.5" r="3.6"/><circle cx="603.16" cy="226" r="3.6"/><circle cx="603.16" cy="241.5" r="3.6"/><circle cx="624" cy="226" r="3.6"/><circle cx="624" cy="241.5" r="3.6"/><circle cx="648.55" cy="226" r="3.6"/><circle cx="648.55" cy="241.5" r="3.6"/><circle cx="673" cy="226" r="3.6"/><circle cx="673" cy="241.5" r="3.6"/><circle cx="246.63" cy="233.7" r="3.6"/><circle cx="271.48" cy="233.7" r="3.6"/><circle cx="298.93" cy="233.7" r="3.6"/><circle cx="323.58" cy="233.7" r="3.6"/><circle cx="348.43" cy="233.7" r="3.6"/><circle cx="372.99" cy="233.7" r="3.6"/><circle cx="397.54" cy="233.7" r="3.6"/><circle cx="422.39" cy="233.7" r="3.6"/><circle cx="443.83" cy="233.7" r="3.6"/><circle cx="468.18" cy="233.7" r="3.6"/><circle cx="492.63" cy="233.7" r="3.6"/><circle cx="517.38" cy="233.7" r="3.6"/><circle cx="541.93" cy="233.7" r="3.6"/><circle cx="566.38" cy="233.7" r="3.6"/><circle cx="590.63" cy="233.7" r="3.6"/><circle cx="612.38" cy="233.7" r="3.6"/><circle cx="636.53" cy="233.7" r="3.6"/><circle cx="661.08" cy="233.7" r="3.6"/><circle cx="234.6" cy="297" r="3.6"/><circle cx="234.6" cy="312.5" r="3.6"/><circle cx="259.15" cy="297" r="3.6"/><circle cx="259.15" cy="312.5" r="3.6"/><circle cx="283.5" cy="297" r="3.6"/><circle cx="283.5" cy="312.5" r="3.6"/><circle cx="311.56" cy="297" r="3.6"/><circle cx="311.56" cy="312.5" r="3.6"/><circle cx="336.11" cy="297" r="3.6"/><circle cx="336.11" cy="312.5" r="3.6"/><circle cx="360.66" cy="297" r="3.6"/><circle cx="360.66" cy="312.5" r="3.6"/><circle cx="385.51" cy="297" r="3.6"/><circle cx="385.51" cy="312.5" r="3.6"/><circle cx="410.16" cy="297" r="3.6"/><circle cx="410.16" cy="312.5" r="3.6"/><circle cx="434.71" cy="297" r="3.6"/><circle cx="434.71" cy="312.5" r="3.6"/><circle cx="456.46" cy="297" r="3.6"/><circle cx="456.46" cy="312.5" r="3.6"/><circle cx="480.71" cy="297" r="3.6"/><circle cx="480.71" cy="312.5" r="3.6"/><circle cx="505.16" cy="297" r="3.6"/><circle cx="505.16" cy="312.5" r="3.6"/><circle cx="529.41" cy="297" r="3.6"/><circle cx="529.41" cy="312.5" r="3.6"/><circle cx="553.86" cy="297" r="3.6"/><circle cx="553.86" cy="312.5" r="3.6"/><circle cx="578.41" cy="297" r="3.6"/><circle cx="578.41" cy="312.5" r="3.6"/><circle cx="603.16" cy="297" r="3.6"/><circle cx="603.16" cy="312.5" r="3.6"/><circle cx="624" cy="297" r="3.6"/><circle cx="624" cy="312.5" r="3.6"/><circle cx="648.55" cy="297" r="3.6"/><circle cx="648.55" cy="312.5" r="3.6"/><circle cx="673" cy="297" r="3.6"/><circle cx="673" cy="312.5" r="3.6"/><circle cx="246.63" cy="304.7" r="3.6"/><circle cx="271.48" cy="304.7" r="3.6"/><circle cx="298.93" cy="304.7" r="3.6"/><circle cx="323.58" cy="304.7" r="3.6"/><circle cx="348.43" cy="304.7" r="3.6"/><circle cx="372.99" cy="304.7" r="3.6"/><circle cx="397.54" cy="304.7" r="3.6"/><circle cx="422.39" cy="304.7" r="3.6"/><circle cx="443.83" cy="304.7" r="3.6"/><circle cx="468.18" cy="304.7" r="3.6"/><circle cx="492.63" cy="304.7" r="3.6"/><circle cx="517.38" cy="304.7" r="3.6"/><circle cx="541.93" cy="304.7" r="3.6"/><circle cx="566.38" cy="304.7" r="3.6"/><circle cx="590.63" cy="304.7" r="3.6"/><circle cx="612.38" cy="304.7" r="3.6"/><circle cx="636.53" cy="304.7" r="3.6"/><circle cx="661.08" cy="304.7" r="3.6"/><circle cx="234.6" cy="368" r="3.6"/><circle cx="234.6" cy="383.5" r="3.6"/><circle cx="259.15" cy="368" r="3.6"/><circle cx="259.15" cy="383.5" r="3.6"/><circle cx="283.5" cy="368" r="3.6"/><circle cx="283.5" cy="383.5" r="3.6"/><circle cx="311.56" cy="368" r="3.6"/><circle cx="311.56" cy="383.5" r="3.6"/><circle cx="336.11" cy="368" r="3.6"/><circle cx="336.11" cy="383.5" r="3.6"/><circle cx="360.66" cy="368" r="3.6"/><circle cx="360.66" cy="383.5" r="3.6"/><circle cx="385.51" cy="368" r="3.6"/><circle cx="385.51" cy="383.5" r="3.6"/><circle cx="410.16" cy="368" r="3.6"/><circle cx="410.16" cy="383.5" r="3.6"/><circle cx="434.71" cy="368" r="3.6"/><circle cx="434.71" cy="383.5" r="3.6"/><circle cx="456.46" cy="368" r="3.6"/><circle cx="456.46" cy="383.5" r="3.6"/><circle cx="480.71" cy="368" r="3.6"/><circle cx="480.71" cy="383.5" r="3.6"/><circle cx="505.16" cy="368" r="3.6"/><circle cx="505.16" cy="383.5" r="3.6"/><circle cx="529.41" cy="368" r="3.6"/><circle cx="529.41" cy="383.5" r="3.6"/><circle cx="553.86" cy="368" r="3.6"/><circle cx="553.86" cy="383.5" r="3.6"/><circle cx="578.41" cy="368" r="3.6"/><circle cx="578.41" cy="383.5" r="3.6"/><circle cx="603.16" cy="368" r="3.6"/><circle cx="603.16" cy="383.5" r="3.6"/><circle cx="624" cy="368" r="3.6"/><circle cx="624" cy="383.5" r="3.6"/><circle cx="648.55" cy="368" r="3.6"/><circle cx="648.55" cy="383.5" r="3.6"/><circle cx="673" cy="368" r="3.6"/><circle cx="673" cy="383.5" r="3.6"/><circle cx="246.63" cy="375.7" r="3.6"/><circle cx="271.48" cy="375.7" r="3.6"/><circle cx="298.93" cy="375.7" r="3.6"/><circle cx="323.58" cy="375.7" r="3.6"/><circle cx="348.43" cy="375.7" r="3.6"/><circle cx="372.99" cy="375.7" r="3.6"/><circle cx="397.54" cy="375.7" r="3.6"/><circle cx="422.39" cy="375.7" r="3.6"/><circle cx="443.83" cy="375.7" r="3.6"/><circle cx="468.18" cy="375.7" r="3.6"/><circle cx="492.63" cy="375.7" r="3.6"/><circle cx="517.38" cy="375.7" r="3.6"/><circle cx="541.93" cy="375.7" r="3.6"/><circle cx="566.38" cy="375.7" r="3.6"/><circle cx="590.63" cy="375.7" r="3.6"/><circle cx="612.38" cy="375.7" r="3.6"/><circle cx="636.53" cy="375.7" r="3.6"/><circle cx="661.08" cy="375.7" r="3.6"/><circle cx="234.6" cy="439" r="3.6"/><circle cx="234.6" cy="454.5" r="3.6"/><circle cx="259.15" cy="439" r="3.6"/><circle cx="259.15" cy="454.5" r="3.6"/><circle cx="283.5" cy="439" r="3.6"/><circle cx="283.5" cy="454.5" r="3.6"/><circle cx="311.56" cy="439" r="3.6"/><circle cx="311.56" cy="454.5" r="3.6"/><circle cx="336.11" cy="439" r="3.6"/><circle cx="336.11" cy="454.5" r="3.6"/><circle cx="360.66" cy="439" r="3.6"/><circle cx="360.66" cy="454.5" r="3.6"/><circle cx="385.51" cy="439" r="3.6"/><circle cx="385.51" cy="454.5" r="3.6"/><circle cx="410.16" cy="439" r="3.6"/><circle cx="410.16" cy="454.5" r="3.6"/><circle cx="434.71" cy="439" r="3.6"/><circle cx="434.71" cy="454.5" r="3.6"/><circle cx="456.46" cy="439" r="3.6"/><circle cx="456.46" cy="454.5" r="3.6"/><circle cx="480.71" cy="439" r="3.6"/><circle cx="480.71" cy="454.5" r="3.6"/><circle cx="505.16" cy="439" r="3.6"/><circle cx="505.16" cy="454.5" r="3.6"/><circle cx="529.41" cy="439" r="3.6"/><circle cx="529.41" cy="454.5" r="3.6"/><circle cx="553.86" cy="439" r="3.6"/><circle cx="553.86" cy="454.5" r="3.6"/><circle cx="578.41" cy="439" r="3.6"/><circle cx="578.41" cy="454.5" r="3.6"/><circle cx="603.16" cy="439" r="3.6"/><circle cx="603.16" cy="454.5" r="3.6"/><circle cx="624" cy="439" r="3.6"/><circle cx="624" cy="454.5" r="3.6"/><circle cx="648.55" cy="439" r="3.6"/><circle cx="648.55" cy="454.5" r="3.6"/><circle cx="673" cy="439" r="3.6"/><circle cx="673" cy="454.5" r="3.6"/><circle cx="246.63" cy="446.7" r="3.6"/><circle cx="271.48" cy="446.7" r="3.6"/><circle cx="323.58" cy="446.7" r="3.6"/><circle cx="348.43" cy="446.7" r="3.6"/><circle cx="372.99" cy="446.7" r="3.6"/><circle cx="397.54" cy="446.7" r="3.6"/><circle cx="422.39" cy="446.7" r="3.6"/><circle cx="443.83" cy="446.7" r="3.6"/><circle cx="468.18" cy="446.7" r="3.6"/><circle cx="492.63" cy="446.7" r="3.6"/><circle cx="517.38" cy="446.7" r="3.6"/><circle cx="541.93" cy="446.7" r="3.6"/><circle cx="566.38" cy="446.7" r="3.6"/><circle cx="590.63" cy="446.7" r="3.6"/><circle cx="612.38" cy="446.7" r="3.6"/><circle cx="636.53" cy="446.7" r="3.6"/><circle cx="661.08" cy="446.7" r="3.6"/><circle cx="234.6" cy="510" r="3.6"/><circle cx="234.6" cy="525.5" r="3.6"/><circle cx="259.15" cy="510" r="3.6"/><circle cx="259.15" cy="525.5" r="3.6"/><circle cx="283.5" cy="510" r="3.6"/><circle cx="283.5" cy="525.5" r="3.6"/><circle cx="311.56" cy="510" r="3.6"/><circle cx="311.56" cy="525.5" r="3.6"/><circle cx="336.11" cy="510" r="3.6"/><circle cx="336.11" cy="525.5" r="3.6"/><circle cx="360.66" cy="510" r="3.6"/><circle cx="360.66" cy="525.5" r="3.6"/><circle cx="385.51" cy="510" r="3.6"/><circle cx="385.51" cy="525.5" r="3.6"/><circle cx="410.16" cy="510" r="3.6"/><circle cx="410.16" cy="525.5" r="3.6"/><circle cx="434.71" cy="510" r="3.6"/><circle cx="434.71" cy="525.5" r="3.6"/><circle cx="456.46" cy="510" r="3.6"/><circle cx="456.46" cy="525.5" r="3.6"/><circle cx="480.71" cy="510" r="3.6"/><circle cx="480.71" cy="525.5" r="3.6"/><circle cx="505.16" cy="510" r="3.6"/><circle cx="505.16" cy="525.5" r="3.6"/><circle cx="529.41" cy="510" r="3.6"/><circle cx="529.41" cy="525.5" r="3.6"/><circle cx="553.86" cy="510" r="3.6"/><circle cx="553.86" cy="525.5" r="3.6"/><circle cx="578.41" cy="510" r="3.6"/><circle cx="578.41" cy="525.5" r="3.6"/><circle cx="603.16" cy="510" r="3.6"/><circle cx="603.16" cy="525.5" r="3.6"/><circle cx="624" cy="510" r="3.6"/><circle cx="624" cy="525.5" r="3.6"/><circle cx="648.55" cy="510" r="3.6"/><circle cx="648.55" cy="525.5" r="3.6"/><circle cx="673" cy="510" r="3.6"/><circle cx="673" cy="525.5" r="3.6"/><circle cx="246.63" cy="517.7" r="3.6"/><circle cx="271.48" cy="517.7" r="3.6"/><circle cx="298.93" cy="517.7" r="3.6"/><circle cx="323.58" cy="517.7" r="3.6"/><circle cx="348.43" cy="517.7" r="3.6"/><circle cx="372.99" cy="517.7" r="3.6"/><circle cx="397.54" cy="517.7" r="3.6"/><circle cx="422.39" cy="517.7" r="3.6"/><circle cx="443.83" cy="517.7" r="3.6"/><circle cx="468.18" cy="517.7" r="3.6"/><circle cx="492.63" cy="517.7" r="3.6"/><circle cx="517.38" cy="517.7" r="3.6"/><circle cx="541.93" cy="517.7" r="3.6"/><circle cx="566.38" cy="517.7" r="3.6"/><circle cx="590.63" cy="517.7" r="3.6"/><circle cx="612.38" cy="517.7" r="3.6"/><circle cx="636.53" cy="517.7" r="3.6"/><circle cx="661.08" cy="517.7" r="3.6"/>
</g>
<circle cx="299.4" cy="446.6" r="3.6" fill="none" stroke="#9fb0b0" stroke-width="1.1"/><path d="M333.5,157.5 L281,243" fill="none" stroke="#174a5a" stroke-width="1"/><path d="M642,160.5 L628.3,184" fill="none" stroke="#174a5a" stroke-width="1"/><path d="M133.5,262.5 L132.4,256 L134.6,256 Z" fill="#0f3440" stroke="#0f3440" stroke-width="0.4"/><path d="M133.5,275.5 L134.6,282 L132.4,282 Z" fill="#0f3440" stroke="#0f3440" stroke-width="0.4"/><path d="M785.5,411.5 L786.8,418.5 L784.2,418.5 Z" fill="#0f3440" stroke="#0f3440" stroke-width="0.4"/><path d="M785.5,482.5 L784.2,475.5 L786.8,475.5 Z" fill="#0f3440" stroke="#0f3440" stroke-width="0.4"/><path d="M140,617.5 L147,616.2 L147,618.8 Z" fill="#0f3440" stroke="#0f3440" stroke-width="0.4"/><path d="M770,617.5 L763,618.8 L763,616.2 Z" fill="#0f3440" stroke="#0f3440" stroke-width="0.4"/>
</svg>
<div class="t lb" style="left:401px;top:141px;font-size:13px;">孔</div>
<div class="t lb" style="left:421px;top:141px;font-size:13px;">径</div>
<div class="t lb" style="left:675px;top:142px;font-size:14px;">板厚</div>
<div class="t lb" style="left:71px;top:262px;font-size:13px;-webkit-text-stroke:0.1px #111;">串轴直径</div>
<div class="t lb" style="left:794px;top:427px;">节</div>
<div class="t lb" style="left:794px;top:453px;">距</div>
<div class="t lb" style="left:437px;top:602px;">总</div>
<div class="t lb" style="left:463px;top:602px;">宽</div>
</body></html>
